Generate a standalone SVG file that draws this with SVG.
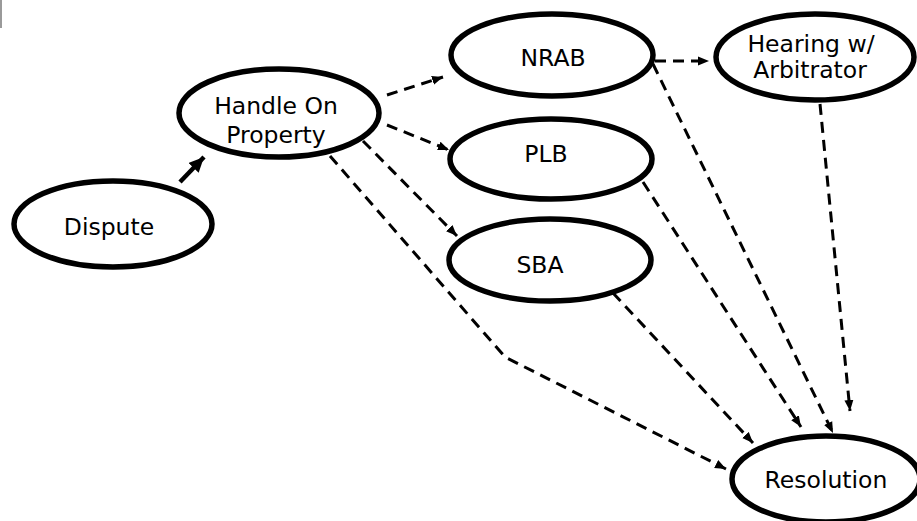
<svg xmlns="http://www.w3.org/2000/svg" width="917" height="521" viewBox="0 0 917 521">
<style>
  .node ellipse { fill: #fff; stroke: #000; stroke-width: 5.5; }
  .node text { font-family: "DejaVu Sans", Verdana, sans-serif; font-size: 23.5px; fill: #000; text-anchor: middle; }
  .dash { fill: none; stroke: #000; stroke-width: 3; stroke-dasharray: 11 7; marker-end: url(#ah); }
  .dash-nomark { fill: none; stroke: #000; stroke-width: 3; stroke-dasharray: 11 7; }
  .solid { fill: none; stroke: #000; stroke-width: 4.5; marker-end: url(#ahBig); }
</style>
<defs>
  <marker id="ah" markerUnits="userSpaceOnUse" markerWidth="12" markerHeight="10" refX="11" refY="5" orient="auto">
    <path d="M0,0.5 L11,5 L0,9.5 z" fill="#000"/>
  </marker>
  <marker id="ahBig" markerUnits="userSpaceOnUse" markerWidth="16" markerHeight="14" refX="15" refY="7" orient="auto">
    <path d="M0,0 L15,7 L0,14 z" fill="#000"/>
  </marker>
</defs>
<rect x="0" y="0" width="2" height="28" fill="#9a9a9a"/>
<g id="connectors">
  <line class="solid" x1="180" y1="182" x2="204" y2="157"/>
  <line class="dash" x1="387" y1="95" x2="443" y2="77"/>
  <line class="dash" x1="387" y1="125" x2="449" y2="150"/>
  <line class="dash" x1="363" y1="141" x2="457" y2="236"/>
  <polyline class="dash" points="330,156 505,357 726,469"/>
  <line class="dash" x1="613" y1="293" x2="753" y2="443"/>
  <line class="dash" x1="643" y1="182" x2="801" y2="427"/>
  <line class="dash" x1="653" y1="64" x2="833" y2="433"/>
  <line class="dash" x1="655" y1="61" x2="709" y2="61"/>
  <line class="dash" x1="820" y1="104" x2="850" y2="411"/>
</g>
<g id="dispute" class="node">
  <ellipse cx="113" cy="224" rx="99" ry="43"/>
  <text x="109" y="235">Dispute</text>
</g>
<g id="handle-on-property" class="node">
  <ellipse cx="279" cy="113" rx="100" ry="44"/>
  <text x="276" y="114">Handle On</text>
  <text x="276" y="143">Property</text>
</g>
<g id="nrab" class="node">
  <ellipse cx="552" cy="55" rx="101" ry="41"/>
  <text x="553" y="66">NRAB</text>
</g>
<g id="plb" class="node">
  <ellipse cx="551" cy="159" rx="101" ry="40"/>
  <text x="546" y="162">PLB</text>
</g>
<g id="sba" class="node">
  <ellipse cx="550" cy="260" rx="101" ry="41"/>
  <text x="540" y="273">SBA</text>
</g>
<g id="hearing" class="node">
  <ellipse cx="815" cy="57" rx="99" ry="43"/>
  <text x="811" y="52">Hearing w/</text>
  <text x="810" y="78">Arbitrator</text>
</g>
<g id="resolution" class="node">
  <ellipse cx="826" cy="479" rx="94" ry="43"/>
  <text x="826" y="488">Resolution</text>
</g>
</svg>
